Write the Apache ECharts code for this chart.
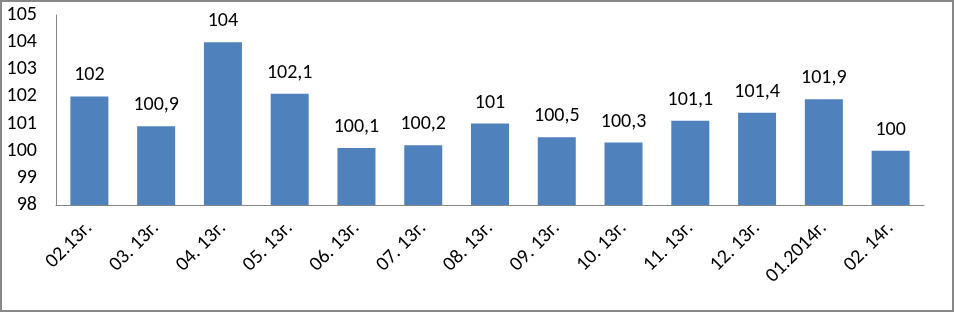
<!DOCTYPE html>
<html><head><meta charset="utf-8">
<script src="https://cdn.jsdelivr.net/npm/echarts@6/dist/echarts.min.js"></script>
<style>
html,body{margin:0;padding:0;background:#fff;}
#wrap{position:relative;width:954px;height:312px;}
#chart{position:absolute;left:0;top:0;width:954px;height:312px;}
#frame{position:absolute;left:0;top:0;width:954px;height:312px;box-sizing:border-box;border:2px solid #878787;pointer-events:none;}
</style></head>
<body>
<div id="wrap"><div id="chart"></div><div id="frame"></div></div>
<script>
const categories = ['02.13г.', '03. 13г.', '04. 13г.', '05. 13г.', '06. 13г.', '07. 13г.', '08. 13г.', '09. 13г.', '10. 13г.', '11. 13г.', '12. 13г.', '01.2014г.', '02. 14г.'];
const values = [102, 100.9, 104, 102.1, 100.1, 100.2, 101, 100.5, 100.3, 101.1, 101.4, 101.9, 100];
const yMin = 98, yMax = 105, yStep = 1;

const font = 'Carlito, Lato, "Liberation Sans", sans-serif';
const chart = echarts.init(document.getElementById('chart'), null, {renderer: 'canvas'});
chart.setOption({
  animation: false,
  grid: {left: 56, right: 30, top: 15, bottom: 107, containLabel: false},
  xAxis: {
    type: 'category',
    data: categories,
    axisLine: {show: true, lineStyle: {color: '#868686', width: 1}},
    axisTick: {show: false},
    axisLabel: {rotate: 45, color: '#000', fontFamily: font, fontSize: 20, margin: 20, interval: 0}
  },
  yAxis: {
    type: 'value',
    min: yMin, max: yMax, interval: yStep,
    splitLine: {show: false},
    axisLine: {show: true, lineStyle: {color: '#868686', width: 1}},
    axisTick: {show: false},
    axisLabel: {color: '#000', fontFamily: font, fontSize: 20, margin: 19}
  },
  series: [{
    type: 'bar',
    data: values,
    barWidth: 38,
    itemStyle: {color: '#4F81BD'},
    label: {
      show: true, position: 'top', distance: 11,
      color: '#000', fontFamily: font, fontSize: 20,
      formatter: p => String(p.value).replace('.', ',')
    }
  }]
});
</script>
</body></html>
